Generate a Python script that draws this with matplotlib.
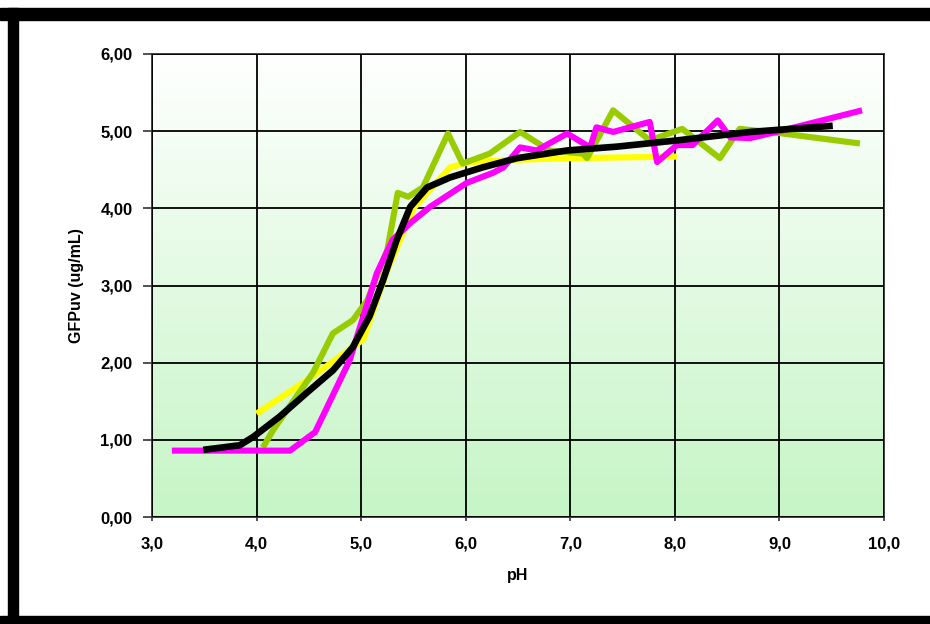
import numpy as np
import matplotlib
matplotlib.use("Agg")
import matplotlib.pyplot as plt
from matplotlib.ticker import FuncFormatter
from matplotlib.colors import LinearSegmentedColormap

# values
magenta_ph = [3.19, 4.32, 4.56, 4.89, 5.15, 5.30, 5.47, 5.66, 6.01, 6.26, 6.36, 6.52,
              6.68, 6.97, 7.19, 7.25, 7.41, 7.76, 7.83, 8.02, 8.17, 8.41, 8.53, 8.72,
              9.03, 9.79]
magenta_v = [0.86, 0.86, 1.10, 2.03, 3.16, 3.59, 3.81, 4.02, 4.33, 4.46, 4.53, 4.79,
             4.75, 4.97, 4.79, 5.05, 4.99, 5.12, 4.60, 4.82, 4.82, 5.14, 4.92, 4.91,
             5.01, 5.27]

green_ph = [4.06, 4.16, 4.54, 4.73, 4.92, 5.06, 5.25, 5.35, 5.45, 5.59, 5.83, 5.97,
            6.23, 6.52, 6.80, 7.12, 7.16, 7.41, 7.76, 8.07, 8.43, 8.62, 9.03, 9.77]
green_v = [0.90, 1.13, 1.87, 2.38, 2.55, 2.81, 3.46, 4.20, 4.15, 4.27, 4.97, 4.58,
           4.71, 4.99, 4.75, 4.71, 4.65, 5.27, 4.88, 5.03, 4.65, 5.03, 4.97, 4.84]

yellow_ph = [4.00, 4.48, 5.02, 5.25, 5.50, 5.85, 6.04, 6.50, 7.00, 7.50, 8.02]
yellow_v = [1.34, 1.77, 2.30, 3.20, 4.00, 4.53, 4.60, 4.63, 4.65, 4.66, 4.67]

black_ph = [3.49, 3.84, 3.97, 4.22, 4.48, 4.73, 4.92, 5.08, 5.21, 5.34, 5.47, 5.63,
            5.85, 6.16, 6.49, 6.97, 7.45, 8.02, 8.72, 9.51]
black_v = [0.87, 0.93, 1.04, 1.30, 1.61, 1.90, 2.20, 2.60, 3.07, 3.59, 4.02, 4.27,
           4.40, 4.53, 4.65, 4.75, 4.80, 4.88, 4.99, 5.07]

x_ticks = [3, 4, 5, 6, 7, 8, 9, 10]
y_ticks = [0, 1, 2, 3, 4, 5, 6]

fig = plt.figure(figsize=(9.3, 6.24), dpi=100)
fig.patch.set_facecolor("white")

# black frame bands (top, left, bottom) like the original screenshot
for rect in [(0, 1 - 20 / 624, 1, 12 / 624), (8 / 930, 0, 10 / 930, 1 - 8 / 624),
             (0, 0, 1, 8 / 624)]:
    fig.patches.append(plt.Rectangle(rect[:2], rect[2], rect[3], transform=fig.transFigure,
                                     color="black", zorder=0))

ax = fig.add_axes([152 / 930, 107 / 624, 732 / 930, 463 / 624])

# white -> light green gradient background
cmap = LinearSegmentedColormap.from_list("bg", ["#c6f5c6", "#ffffff"])
grad = np.linspace(0, 1, 256).reshape(-1, 1)
ax.imshow(grad, cmap=cmap, aspect="auto", extent=[0, 1, 0, 1], origin="lower",
          transform=ax.transAxes, zorder=0)

lw = 4.4
ax.plot(yellow_ph, yellow_v, color="#ffff00", lw=lw, zorder=3, solid_capstyle="butt")
ax.plot(green_ph, green_v, color="#99cc00", lw=lw, zorder=4, solid_capstyle="butt")
ax.plot(magenta_ph, magenta_v, color="#ff00ff", lw=lw, zorder=5, solid_capstyle="butt")
ax.plot(black_ph, black_v, color="black", lw=4.8, zorder=6, solid_capstyle="butt")

ax.set_xlim(3, 10)
ax.set_ylim(0, 6)
ax.set_xticks(x_ticks)
ax.set_yticks(y_ticks)
ax.xaxis.set_major_formatter(FuncFormatter(lambda v, p: f"{v:.1f}".replace(".", ",")))
ax.yaxis.set_major_formatter(FuncFormatter(lambda v, p: f"{v:.2f}".replace(".", ",")))
ax.grid(True, color="black", lw=1.3, zorder=1)
ax.set_axisbelow(False)
for s in ax.spines.values():
    s.set_color("#333333")
    s.set_linewidth(1.3)
    s.set_zorder(2)

for lab in ax.get_xticklabels() + ax.get_yticklabels():
    lab.set_fontfamily("Liberation Sans")
    lab.set_fontweight("bold")
    lab.set_fontsize(12)
ax.tick_params(axis="y", direction="out", length=6.5, width=1.2, color="#333333", pad=7.5)
ax.tick_params(axis="x", direction="out", length=3, width=1.2, color="#333333", pad=11)

ax.set_xlabel("pH", fontfamily="Liberation Sans", fontweight="bold", fontsize=11.5, labelpad=12)
ax.set_ylabel("GFPuv (ug/mL)", fontfamily="Liberation Sans", fontweight="bold", fontsize=11.5,
              labelpad=12)

fig.savefig("out.png", dpi=100)
